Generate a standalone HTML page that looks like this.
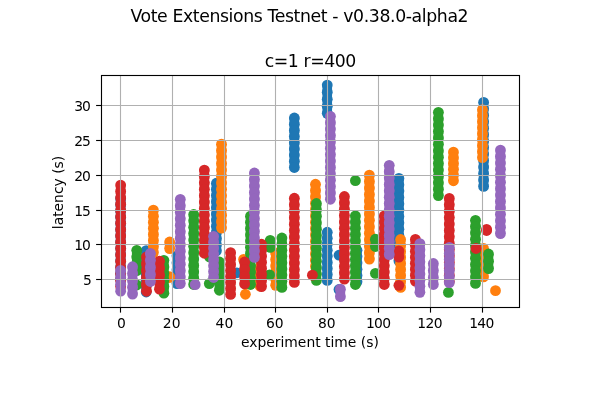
<!DOCTYPE html>
<html lang="en"><head><meta charset="utf-8"><title>Vote Extensions Testnet - v0.38.0-alpha2</title>
<style>html,body{margin:0;padding:0;background:#fff}body{width:600px;height:400px;overflow:hidden}svg{display:block}text{font-family:"DejaVu Sans","Liberation Sans",sans-serif;fill:#000}</style></head><body>
<svg width="600" height="400" viewBox="0 0 600 400">
<rect width="600" height="400" fill="#fff"/>
<clipPath id="ax"><rect x="101.5" y="75.5" width="418.0" height="232.0"/></clipPath>
<g clip-path="url(#ax)" stroke="none">
<g fill="#1f77b4">
<rect x="115.85" y="198.40" width="9.6" height="81.20"/>
<circle cx="120.65" cy="198.40" r="5.4"/>
<circle cx="120.65" cy="204.65" r="5.4"/>
<circle cx="120.65" cy="210.89" r="5.4"/>
<circle cx="120.65" cy="217.14" r="5.4"/>
<circle cx="120.65" cy="223.38" r="5.4"/>
<circle cx="120.65" cy="229.63" r="5.4"/>
<circle cx="120.65" cy="235.88" r="5.4"/>
<circle cx="120.65" cy="242.12" r="5.4"/>
<circle cx="120.65" cy="248.37" r="5.4"/>
<circle cx="120.65" cy="254.62" r="5.4"/>
<circle cx="120.65" cy="260.86" r="5.4"/>
<circle cx="120.65" cy="267.11" r="5.4"/>
<circle cx="120.65" cy="273.35" r="5.4"/>
<circle cx="120.65" cy="279.60" r="5.4"/>
<rect x="141.40" y="250.65" width="9.6" height="41.35"/>
<circle cx="146.20" cy="250.65" r="5.4"/>
<circle cx="146.20" cy="256.56" r="5.4"/>
<circle cx="146.20" cy="262.46" r="5.4"/>
<circle cx="146.20" cy="268.37" r="5.4"/>
<circle cx="146.20" cy="274.28" r="5.4"/>
<circle cx="146.20" cy="280.19" r="5.4"/>
<circle cx="146.20" cy="286.09" r="5.4"/>
<circle cx="146.20" cy="292.00" r="5.4"/>
<rect x="172.20" y="255.90" width="9.6" height="27.70"/>
<circle cx="177.00" cy="255.90" r="5.4"/>
<circle cx="177.00" cy="262.82" r="5.4"/>
<circle cx="177.00" cy="269.75" r="5.4"/>
<circle cx="177.00" cy="276.68" r="5.4"/>
<circle cx="177.00" cy="283.60" r="5.4"/>
<rect x="211.60" y="183.20" width="9.6" height="67.65"/>
<circle cx="216.40" cy="183.20" r="5.4"/>
<circle cx="216.40" cy="189.35" r="5.4"/>
<circle cx="216.40" cy="195.50" r="5.4"/>
<circle cx="216.40" cy="201.65" r="5.4"/>
<circle cx="216.40" cy="207.80" r="5.4"/>
<circle cx="216.40" cy="213.95" r="5.4"/>
<circle cx="216.40" cy="220.10" r="5.4"/>
<circle cx="216.40" cy="226.25" r="5.4"/>
<circle cx="216.40" cy="232.40" r="5.4"/>
<circle cx="216.40" cy="238.55" r="5.4"/>
<circle cx="216.40" cy="244.70" r="5.4"/>
<circle cx="216.40" cy="250.85" r="5.4"/>
<circle cx="236.90" cy="272.80" r="5.4"/>
<rect x="289.55" y="118.00" width="9.6" height="49.50"/>
<circle cx="294.35" cy="118.00" r="5.4"/>
<circle cx="294.35" cy="124.19" r="5.4"/>
<circle cx="294.35" cy="130.38" r="5.4"/>
<circle cx="294.35" cy="136.56" r="5.4"/>
<circle cx="294.35" cy="142.75" r="5.4"/>
<circle cx="294.35" cy="148.94" r="5.4"/>
<circle cx="294.35" cy="155.12" r="5.4"/>
<circle cx="294.35" cy="161.31" r="5.4"/>
<circle cx="294.35" cy="167.50" r="5.4"/>
<rect x="322.45" y="85.10" width="9.6" height="28.25"/>
<circle cx="327.25" cy="85.10" r="5.4"/>
<circle cx="327.25" cy="92.16" r="5.4"/>
<circle cx="327.25" cy="99.22" r="5.4"/>
<circle cx="327.25" cy="106.29" r="5.4"/>
<circle cx="327.25" cy="113.35" r="5.4"/>
<rect x="322.45" y="232.25" width="9.6" height="48.20"/>
<circle cx="327.25" cy="232.25" r="5.4"/>
<circle cx="327.25" cy="238.28" r="5.4"/>
<circle cx="327.25" cy="244.30" r="5.4"/>
<circle cx="327.25" cy="250.33" r="5.4"/>
<circle cx="327.25" cy="256.35" r="5.4"/>
<circle cx="327.25" cy="262.38" r="5.4"/>
<circle cx="327.25" cy="268.40" r="5.4"/>
<circle cx="327.25" cy="274.43" r="5.4"/>
<circle cx="327.25" cy="280.45" r="5.4"/>
<circle cx="339.00" cy="255.20" r="5.4"/>
<circle cx="339.00" cy="289.45" r="5.4"/>
<rect x="352.20" y="250.30" width="9.6" height="31.55"/>
<circle cx="357.00" cy="250.30" r="5.4"/>
<circle cx="357.00" cy="256.61" r="5.4"/>
<circle cx="357.00" cy="262.92" r="5.4"/>
<circle cx="357.00" cy="269.23" r="5.4"/>
<circle cx="357.00" cy="275.54" r="5.4"/>
<circle cx="357.00" cy="281.85" r="5.4"/>
<rect x="394.10" y="178.40" width="9.6" height="82.45"/>
<circle cx="398.90" cy="178.40" r="5.4"/>
<circle cx="398.90" cy="184.74" r="5.4"/>
<circle cx="398.90" cy="191.08" r="5.4"/>
<circle cx="398.90" cy="197.43" r="5.4"/>
<circle cx="398.90" cy="203.77" r="5.4"/>
<circle cx="398.90" cy="210.11" r="5.4"/>
<circle cx="398.90" cy="216.45" r="5.4"/>
<circle cx="398.90" cy="222.80" r="5.4"/>
<circle cx="398.90" cy="229.14" r="5.4"/>
<circle cx="398.90" cy="235.48" r="5.4"/>
<circle cx="398.90" cy="241.82" r="5.4"/>
<circle cx="398.90" cy="248.17" r="5.4"/>
<circle cx="398.90" cy="254.51" r="5.4"/>
<circle cx="398.90" cy="260.85" r="5.4"/>
<rect x="478.80" y="102.30" width="9.6" height="84.10"/>
<circle cx="483.60" cy="102.30" r="5.4"/>
<circle cx="483.60" cy="108.77" r="5.4"/>
<circle cx="483.60" cy="115.24" r="5.4"/>
<circle cx="483.60" cy="121.71" r="5.4"/>
<circle cx="483.60" cy="128.18" r="5.4"/>
<circle cx="483.60" cy="134.65" r="5.4"/>
<circle cx="483.60" cy="141.12" r="5.4"/>
<circle cx="483.60" cy="147.58" r="5.4"/>
<circle cx="483.60" cy="154.05" r="5.4"/>
<circle cx="483.60" cy="160.52" r="5.4"/>
<circle cx="483.60" cy="166.99" r="5.4"/>
<circle cx="483.60" cy="173.46" r="5.4"/>
<circle cx="483.60" cy="179.93" r="5.4"/>
<circle cx="483.60" cy="186.40" r="5.4"/>
</g>
<g fill="#ff7f0e">
<rect x="148.60" y="210.15" width="9.6" height="42.45"/>
<circle cx="153.40" cy="210.15" r="5.4"/>
<circle cx="153.40" cy="216.21" r="5.4"/>
<circle cx="153.40" cy="222.28" r="5.4"/>
<circle cx="153.40" cy="228.34" r="5.4"/>
<circle cx="153.40" cy="234.41" r="5.4"/>
<circle cx="153.40" cy="240.47" r="5.4"/>
<circle cx="153.40" cy="246.54" r="5.4"/>
<circle cx="153.40" cy="252.60" r="5.4"/>
<rect x="164.85" y="242.00" width="9.6" height="6.60"/>
<circle cx="169.65" cy="242.00" r="5.4"/>
<circle cx="169.65" cy="248.60" r="5.4"/>
<rect x="164.85" y="276.60" width="9.6" height="0.90"/>
<circle cx="169.65" cy="276.60" r="5.4"/>
<circle cx="169.65" cy="277.50" r="5.4"/>
<rect x="216.70" y="144.15" width="9.6" height="83.95"/>
<circle cx="221.50" cy="144.15" r="5.4"/>
<circle cx="221.50" cy="150.61" r="5.4"/>
<circle cx="221.50" cy="157.07" r="5.4"/>
<circle cx="221.50" cy="163.52" r="5.4"/>
<circle cx="221.50" cy="169.98" r="5.4"/>
<circle cx="221.50" cy="176.44" r="5.4"/>
<circle cx="221.50" cy="182.90" r="5.4"/>
<circle cx="221.50" cy="189.35" r="5.4"/>
<circle cx="221.50" cy="195.81" r="5.4"/>
<circle cx="221.50" cy="202.27" r="5.4"/>
<circle cx="221.50" cy="208.73" r="5.4"/>
<circle cx="221.50" cy="215.18" r="5.4"/>
<circle cx="221.50" cy="221.64" r="5.4"/>
<circle cx="221.50" cy="228.10" r="5.4"/>
<circle cx="243.60" cy="259.40" r="5.4"/>
<circle cx="245.40" cy="294.25" r="5.4"/>
<rect x="255.20" y="267.40" width="9.6" height="18.70"/>
<circle cx="260.00" cy="267.40" r="5.4"/>
<circle cx="260.00" cy="273.63" r="5.4"/>
<circle cx="260.00" cy="279.87" r="5.4"/>
<circle cx="260.00" cy="286.10" r="5.4"/>
<rect x="270.90" y="252.90" width="9.6" height="32.45"/>
<circle cx="275.70" cy="252.90" r="5.4"/>
<circle cx="275.70" cy="259.39" r="5.4"/>
<circle cx="275.70" cy="265.88" r="5.4"/>
<circle cx="275.70" cy="272.37" r="5.4"/>
<circle cx="275.70" cy="278.86" r="5.4"/>
<circle cx="275.70" cy="285.35" r="5.4"/>
<rect x="310.70" y="184.25" width="9.6" height="82.35"/>
<circle cx="315.50" cy="184.25" r="5.4"/>
<circle cx="315.50" cy="190.58" r="5.4"/>
<circle cx="315.50" cy="196.92" r="5.4"/>
<circle cx="315.50" cy="203.25" r="5.4"/>
<circle cx="315.50" cy="209.59" r="5.4"/>
<circle cx="315.50" cy="215.92" r="5.4"/>
<circle cx="315.50" cy="222.26" r="5.4"/>
<circle cx="315.50" cy="228.59" r="5.4"/>
<circle cx="315.50" cy="234.93" r="5.4"/>
<circle cx="315.50" cy="241.26" r="5.4"/>
<circle cx="315.50" cy="247.60" r="5.4"/>
<circle cx="315.50" cy="253.93" r="5.4"/>
<circle cx="315.50" cy="260.27" r="5.4"/>
<circle cx="315.50" cy="266.60" r="5.4"/>
<rect x="364.60" y="175.15" width="9.6" height="83.95"/>
<circle cx="369.40" cy="175.15" r="5.4"/>
<circle cx="369.40" cy="181.61" r="5.4"/>
<circle cx="369.40" cy="188.07" r="5.4"/>
<circle cx="369.40" cy="194.52" r="5.4"/>
<circle cx="369.40" cy="200.98" r="5.4"/>
<circle cx="369.40" cy="207.44" r="5.4"/>
<circle cx="369.40" cy="213.90" r="5.4"/>
<circle cx="369.40" cy="220.35" r="5.4"/>
<circle cx="369.40" cy="226.81" r="5.4"/>
<circle cx="369.40" cy="233.27" r="5.4"/>
<circle cx="369.40" cy="239.73" r="5.4"/>
<circle cx="369.40" cy="246.18" r="5.4"/>
<circle cx="369.40" cy="252.64" r="5.4"/>
<circle cx="369.40" cy="259.10" r="5.4"/>
<rect x="395.80" y="239.50" width="9.6" height="47.95"/>
<circle cx="400.60" cy="239.50" r="5.4"/>
<circle cx="400.60" cy="245.49" r="5.4"/>
<circle cx="400.60" cy="251.49" r="5.4"/>
<circle cx="400.60" cy="257.48" r="5.4"/>
<circle cx="400.60" cy="263.48" r="5.4"/>
<circle cx="400.60" cy="269.47" r="5.4"/>
<circle cx="400.60" cy="275.46" r="5.4"/>
<circle cx="400.60" cy="281.46" r="5.4"/>
<circle cx="400.60" cy="287.45" r="5.4"/>
<rect x="448.65" y="152.10" width="9.6" height="28.70"/>
<circle cx="453.45" cy="152.10" r="5.4"/>
<circle cx="453.45" cy="157.84" r="5.4"/>
<circle cx="453.45" cy="163.58" r="5.4"/>
<circle cx="453.45" cy="169.32" r="5.4"/>
<circle cx="453.45" cy="175.06" r="5.4"/>
<circle cx="453.45" cy="180.80" r="5.4"/>
<rect x="477.65" y="109.65" width="9.6" height="48.05"/>
<circle cx="482.45" cy="109.65" r="5.4"/>
<circle cx="482.45" cy="115.66" r="5.4"/>
<circle cx="482.45" cy="121.66" r="5.4"/>
<circle cx="482.45" cy="127.67" r="5.4"/>
<circle cx="482.45" cy="133.68" r="5.4"/>
<circle cx="482.45" cy="139.68" r="5.4"/>
<circle cx="482.45" cy="145.69" r="5.4"/>
<circle cx="482.45" cy="151.69" r="5.4"/>
<circle cx="482.45" cy="157.70" r="5.4"/>
<rect x="478.70" y="248.40" width="9.6" height="28.50"/>
<circle cx="483.50" cy="248.40" r="5.4"/>
<circle cx="483.50" cy="254.10" r="5.4"/>
<circle cx="483.50" cy="259.80" r="5.4"/>
<circle cx="483.50" cy="265.50" r="5.4"/>
<circle cx="483.50" cy="271.20" r="5.4"/>
<circle cx="483.50" cy="276.90" r="5.4"/>
<circle cx="495.50" cy="290.65" r="5.4"/>
</g>
<g fill="#2ca02c">
<rect x="131.95" y="250.30" width="9.6" height="20.30"/>
<circle cx="136.75" cy="250.30" r="5.4"/>
<circle cx="136.75" cy="257.07" r="5.4"/>
<circle cx="136.75" cy="263.83" r="5.4"/>
<circle cx="136.75" cy="270.60" r="5.4"/>
<circle cx="136.75" cy="285.00" r="5.4"/>
<rect x="159.10" y="260.30" width="9.6" height="32.90"/>
<circle cx="163.90" cy="260.30" r="5.4"/>
<circle cx="163.90" cy="266.88" r="5.4"/>
<circle cx="163.90" cy="273.46" r="5.4"/>
<circle cx="163.90" cy="280.04" r="5.4"/>
<circle cx="163.90" cy="286.62" r="5.4"/>
<circle cx="163.90" cy="293.20" r="5.4"/>
<rect x="188.90" y="214.50" width="9.6" height="70.00"/>
<circle cx="193.70" cy="214.50" r="5.4"/>
<circle cx="193.70" cy="220.86" r="5.4"/>
<circle cx="193.70" cy="227.23" r="5.4"/>
<circle cx="193.70" cy="233.59" r="5.4"/>
<circle cx="193.70" cy="239.95" r="5.4"/>
<circle cx="193.70" cy="246.32" r="5.4"/>
<circle cx="193.70" cy="252.68" r="5.4"/>
<circle cx="193.70" cy="259.05" r="5.4"/>
<circle cx="193.70" cy="265.41" r="5.4"/>
<circle cx="193.70" cy="271.77" r="5.4"/>
<circle cx="193.70" cy="278.14" r="5.4"/>
<circle cx="193.70" cy="284.50" r="5.4"/>
<circle cx="209.50" cy="257.00" r="5.4"/>
<circle cx="209.30" cy="283.60" r="5.4"/>
<rect x="214.60" y="262.00" width="9.6" height="28.25"/>
<circle cx="219.40" cy="262.00" r="5.4"/>
<circle cx="219.40" cy="269.06" r="5.4"/>
<circle cx="219.40" cy="276.12" r="5.4"/>
<circle cx="219.40" cy="283.19" r="5.4"/>
<circle cx="219.40" cy="290.25" r="5.4"/>
<rect x="245.70" y="216.15" width="9.6" height="68.35"/>
<circle cx="250.50" cy="216.15" r="5.4"/>
<circle cx="250.50" cy="222.36" r="5.4"/>
<circle cx="250.50" cy="228.58" r="5.4"/>
<circle cx="250.50" cy="234.79" r="5.4"/>
<circle cx="250.50" cy="241.00" r="5.4"/>
<circle cx="250.50" cy="247.22" r="5.4"/>
<circle cx="250.50" cy="253.43" r="5.4"/>
<circle cx="250.50" cy="259.65" r="5.4"/>
<circle cx="250.50" cy="265.86" r="5.4"/>
<circle cx="250.50" cy="272.07" r="5.4"/>
<circle cx="250.50" cy="278.29" r="5.4"/>
<circle cx="250.50" cy="284.50" r="5.4"/>
<rect x="265.40" y="240.30" width="9.6" height="7.10"/>
<circle cx="270.20" cy="240.30" r="5.4"/>
<circle cx="270.20" cy="247.40" r="5.4"/>
<circle cx="269.60" cy="274.88" r="5.4"/>
<rect x="277.10" y="238.00" width="9.6" height="49.45"/>
<circle cx="281.90" cy="238.00" r="5.4"/>
<circle cx="281.90" cy="244.18" r="5.4"/>
<circle cx="281.90" cy="250.36" r="5.4"/>
<circle cx="281.90" cy="256.54" r="5.4"/>
<circle cx="281.90" cy="262.73" r="5.4"/>
<circle cx="281.90" cy="268.91" r="5.4"/>
<circle cx="281.90" cy="275.09" r="5.4"/>
<circle cx="281.90" cy="281.27" r="5.4"/>
<circle cx="281.90" cy="287.45" r="5.4"/>
<rect x="311.60" y="203.50" width="9.6" height="76.95"/>
<circle cx="316.40" cy="203.50" r="5.4"/>
<circle cx="316.40" cy="209.91" r="5.4"/>
<circle cx="316.40" cy="216.33" r="5.4"/>
<circle cx="316.40" cy="222.74" r="5.4"/>
<circle cx="316.40" cy="229.15" r="5.4"/>
<circle cx="316.40" cy="235.56" r="5.4"/>
<circle cx="316.40" cy="241.98" r="5.4"/>
<circle cx="316.40" cy="248.39" r="5.4"/>
<circle cx="316.40" cy="254.80" r="5.4"/>
<circle cx="316.40" cy="261.21" r="5.4"/>
<circle cx="316.40" cy="267.63" r="5.4"/>
<circle cx="316.40" cy="274.04" r="5.4"/>
<circle cx="316.40" cy="280.45" r="5.4"/>
<circle cx="355.40" cy="180.68" r="5.4"/>
<rect x="350.60" y="215.80" width="9.6" height="68.70"/>
<circle cx="355.40" cy="215.80" r="5.4"/>
<circle cx="355.40" cy="222.05" r="5.4"/>
<circle cx="355.40" cy="228.29" r="5.4"/>
<circle cx="355.40" cy="234.54" r="5.4"/>
<circle cx="355.40" cy="240.78" r="5.4"/>
<circle cx="355.40" cy="247.03" r="5.4"/>
<circle cx="355.40" cy="253.27" r="5.4"/>
<circle cx="355.40" cy="259.52" r="5.4"/>
<circle cx="355.40" cy="265.76" r="5.4"/>
<circle cx="355.40" cy="272.01" r="5.4"/>
<circle cx="355.40" cy="278.25" r="5.4"/>
<circle cx="355.40" cy="284.50" r="5.4"/>
<rect x="370.60" y="239.25" width="9.6" height="7.25"/>
<circle cx="375.40" cy="239.25" r="5.4"/>
<circle cx="375.40" cy="246.50" r="5.4"/>
<circle cx="375.40" cy="273.43" r="5.4"/>
<rect x="433.60" y="112.30" width="9.6" height="83.30"/>
<circle cx="438.40" cy="112.30" r="5.4"/>
<circle cx="438.40" cy="118.71" r="5.4"/>
<circle cx="438.40" cy="125.12" r="5.4"/>
<circle cx="438.40" cy="131.52" r="5.4"/>
<circle cx="438.40" cy="137.93" r="5.4"/>
<circle cx="438.40" cy="144.34" r="5.4"/>
<circle cx="438.40" cy="150.75" r="5.4"/>
<circle cx="438.40" cy="157.15" r="5.4"/>
<circle cx="438.40" cy="163.56" r="5.4"/>
<circle cx="438.40" cy="169.97" r="5.4"/>
<circle cx="438.40" cy="176.38" r="5.4"/>
<circle cx="438.40" cy="182.78" r="5.4"/>
<circle cx="438.40" cy="189.19" r="5.4"/>
<circle cx="438.40" cy="195.60" r="5.4"/>
<circle cx="448.40" cy="292.43" r="5.4"/>
<rect x="470.70" y="220.30" width="9.6" height="63.10"/>
<circle cx="475.50" cy="220.30" r="5.4"/>
<circle cx="475.50" cy="226.61" r="5.4"/>
<circle cx="475.50" cy="232.92" r="5.4"/>
<circle cx="475.50" cy="239.23" r="5.4"/>
<circle cx="475.50" cy="245.54" r="5.4"/>
<circle cx="475.50" cy="251.85" r="5.4"/>
<circle cx="475.50" cy="258.16" r="5.4"/>
<circle cx="475.50" cy="264.47" r="5.4"/>
<circle cx="475.50" cy="270.78" r="5.4"/>
<circle cx="475.50" cy="277.09" r="5.4"/>
<circle cx="475.50" cy="283.40" r="5.4"/>
<rect x="483.70" y="254.00" width="9.6" height="14.60"/>
<circle cx="488.50" cy="254.00" r="5.4"/>
<circle cx="488.50" cy="261.30" r="5.4"/>
<circle cx="488.50" cy="268.60" r="5.4"/>
</g>
<g fill="#d62728">
<rect x="115.85" y="185.10" width="9.6" height="101.50"/>
<circle cx="120.65" cy="185.10" r="5.4"/>
<circle cx="120.65" cy="191.44" r="5.4"/>
<circle cx="120.65" cy="197.79" r="5.4"/>
<circle cx="120.65" cy="204.13" r="5.4"/>
<circle cx="120.65" cy="210.47" r="5.4"/>
<circle cx="120.65" cy="216.82" r="5.4"/>
<circle cx="120.65" cy="223.16" r="5.4"/>
<circle cx="120.65" cy="229.51" r="5.4"/>
<circle cx="120.65" cy="235.85" r="5.4"/>
<circle cx="120.65" cy="242.19" r="5.4"/>
<circle cx="120.65" cy="248.54" r="5.4"/>
<circle cx="120.65" cy="254.88" r="5.4"/>
<circle cx="120.65" cy="261.23" r="5.4"/>
<circle cx="120.65" cy="267.57" r="5.4"/>
<circle cx="120.65" cy="273.91" r="5.4"/>
<circle cx="120.65" cy="280.26" r="5.4"/>
<circle cx="120.65" cy="286.60" r="5.4"/>
<rect x="141.70" y="256.80" width="9.6" height="34.50"/>
<circle cx="146.50" cy="256.80" r="5.4"/>
<circle cx="146.50" cy="263.70" r="5.4"/>
<circle cx="146.50" cy="270.60" r="5.4"/>
<circle cx="146.50" cy="277.50" r="5.4"/>
<circle cx="146.50" cy="284.40" r="5.4"/>
<circle cx="146.50" cy="291.30" r="5.4"/>
<rect x="154.70" y="261.15" width="9.6" height="28.05"/>
<circle cx="159.50" cy="261.15" r="5.4"/>
<circle cx="159.50" cy="268.16" r="5.4"/>
<circle cx="159.50" cy="275.18" r="5.4"/>
<circle cx="159.50" cy="282.19" r="5.4"/>
<circle cx="159.50" cy="289.20" r="5.4"/>
<rect x="199.55" y="170.05" width="9.6" height="83.25"/>
<circle cx="204.35" cy="170.05" r="5.4"/>
<circle cx="204.35" cy="176.45" r="5.4"/>
<circle cx="204.35" cy="182.86" r="5.4"/>
<circle cx="204.35" cy="189.26" r="5.4"/>
<circle cx="204.35" cy="195.67" r="5.4"/>
<circle cx="204.35" cy="202.07" r="5.4"/>
<circle cx="204.35" cy="208.47" r="5.4"/>
<circle cx="204.35" cy="214.88" r="5.4"/>
<circle cx="204.35" cy="221.28" r="5.4"/>
<circle cx="204.35" cy="227.68" r="5.4"/>
<circle cx="204.35" cy="234.09" r="5.4"/>
<circle cx="204.35" cy="240.49" r="5.4"/>
<circle cx="204.35" cy="246.90" r="5.4"/>
<circle cx="204.35" cy="253.30" r="5.4"/>
<rect x="225.80" y="252.55" width="9.6" height="41.90"/>
<circle cx="230.60" cy="252.55" r="5.4"/>
<circle cx="230.60" cy="258.54" r="5.4"/>
<circle cx="230.60" cy="264.52" r="5.4"/>
<circle cx="230.60" cy="270.51" r="5.4"/>
<circle cx="230.60" cy="276.49" r="5.4"/>
<circle cx="230.60" cy="282.48" r="5.4"/>
<circle cx="230.60" cy="288.46" r="5.4"/>
<circle cx="230.60" cy="294.45" r="5.4"/>
<rect x="239.80" y="262.00" width="9.6" height="21.95"/>
<circle cx="244.60" cy="262.00" r="5.4"/>
<circle cx="244.60" cy="269.32" r="5.4"/>
<circle cx="244.60" cy="276.63" r="5.4"/>
<circle cx="244.60" cy="283.95" r="5.4"/>
<rect x="256.70" y="244.20" width="9.6" height="42.40"/>
<circle cx="261.50" cy="244.20" r="5.4"/>
<circle cx="261.50" cy="250.26" r="5.4"/>
<circle cx="261.50" cy="256.31" r="5.4"/>
<circle cx="261.50" cy="262.37" r="5.4"/>
<circle cx="261.50" cy="268.43" r="5.4"/>
<circle cx="261.50" cy="274.49" r="5.4"/>
<circle cx="261.50" cy="280.54" r="5.4"/>
<circle cx="261.50" cy="286.60" r="5.4"/>
<rect x="289.55" y="198.25" width="9.6" height="84.15"/>
<circle cx="294.35" cy="198.25" r="5.4"/>
<circle cx="294.35" cy="204.72" r="5.4"/>
<circle cx="294.35" cy="211.20" r="5.4"/>
<circle cx="294.35" cy="217.67" r="5.4"/>
<circle cx="294.35" cy="224.14" r="5.4"/>
<circle cx="294.35" cy="230.62" r="5.4"/>
<circle cx="294.35" cy="237.09" r="5.4"/>
<circle cx="294.35" cy="243.56" r="5.4"/>
<circle cx="294.35" cy="250.03" r="5.4"/>
<circle cx="294.35" cy="256.51" r="5.4"/>
<circle cx="294.35" cy="262.98" r="5.4"/>
<circle cx="294.35" cy="269.45" r="5.4"/>
<circle cx="294.35" cy="275.93" r="5.4"/>
<circle cx="294.35" cy="282.40" r="5.4"/>
<circle cx="312.40" cy="275.18" r="5.4"/>
<rect x="339.60" y="196.50" width="9.6" height="82.70"/>
<circle cx="344.40" cy="196.50" r="5.4"/>
<circle cx="344.40" cy="202.86" r="5.4"/>
<circle cx="344.40" cy="209.22" r="5.4"/>
<circle cx="344.40" cy="215.58" r="5.4"/>
<circle cx="344.40" cy="221.95" r="5.4"/>
<circle cx="344.40" cy="228.31" r="5.4"/>
<circle cx="344.40" cy="234.67" r="5.4"/>
<circle cx="344.40" cy="241.03" r="5.4"/>
<circle cx="344.40" cy="247.39" r="5.4"/>
<circle cx="344.40" cy="253.75" r="5.4"/>
<circle cx="344.40" cy="260.12" r="5.4"/>
<circle cx="344.40" cy="266.48" r="5.4"/>
<circle cx="344.40" cy="272.84" r="5.4"/>
<circle cx="344.40" cy="279.20" r="5.4"/>
<rect x="379.50" y="215.90" width="9.6" height="68.60"/>
<circle cx="384.30" cy="215.90" r="5.4"/>
<circle cx="384.30" cy="222.14" r="5.4"/>
<circle cx="384.30" cy="228.37" r="5.4"/>
<circle cx="384.30" cy="234.61" r="5.4"/>
<circle cx="384.30" cy="240.85" r="5.4"/>
<circle cx="384.30" cy="247.08" r="5.4"/>
<circle cx="384.30" cy="253.32" r="5.4"/>
<circle cx="384.30" cy="259.55" r="5.4"/>
<circle cx="384.30" cy="265.79" r="5.4"/>
<circle cx="384.30" cy="272.03" r="5.4"/>
<circle cx="384.30" cy="278.26" r="5.4"/>
<circle cx="384.30" cy="284.50" r="5.4"/>
<rect x="394.10" y="250.80" width="9.6" height="6.30"/>
<circle cx="398.90" cy="250.80" r="5.4"/>
<circle cx="398.90" cy="257.10" r="5.4"/>
<circle cx="398.90" cy="285.32" r="5.4"/>
<rect x="410.60" y="239.40" width="9.6" height="41.70"/>
<circle cx="415.40" cy="239.40" r="5.4"/>
<circle cx="415.40" cy="245.36" r="5.4"/>
<circle cx="415.40" cy="251.31" r="5.4"/>
<circle cx="415.40" cy="257.27" r="5.4"/>
<circle cx="415.40" cy="263.23" r="5.4"/>
<circle cx="415.40" cy="269.19" r="5.4"/>
<circle cx="415.40" cy="275.14" r="5.4"/>
<circle cx="415.40" cy="281.10" r="5.4"/>
<rect x="444.50" y="198.40" width="9.6" height="83.20"/>
<circle cx="449.30" cy="198.40" r="5.4"/>
<circle cx="449.30" cy="204.80" r="5.4"/>
<circle cx="449.30" cy="211.20" r="5.4"/>
<circle cx="449.30" cy="217.60" r="5.4"/>
<circle cx="449.30" cy="224.00" r="5.4"/>
<circle cx="449.30" cy="230.40" r="5.4"/>
<circle cx="449.30" cy="236.80" r="5.4"/>
<circle cx="449.30" cy="243.20" r="5.4"/>
<circle cx="449.30" cy="249.60" r="5.4"/>
<circle cx="449.30" cy="256.00" r="5.4"/>
<circle cx="449.30" cy="262.40" r="5.4"/>
<circle cx="449.30" cy="268.80" r="5.4"/>
<circle cx="449.30" cy="275.20" r="5.4"/>
<circle cx="449.30" cy="281.60" r="5.4"/>
<circle cx="476.00" cy="248.50" r="5.4"/>
<rect x="481.80" y="229.40" width="9.6" height="1.10"/>
<circle cx="486.60" cy="229.40" r="5.4"/>
<circle cx="486.60" cy="230.50" r="5.4"/>
</g>
<g fill="#9467bd">
<rect x="115.85" y="270.40" width="9.6" height="20.80"/>
<circle cx="120.65" cy="270.40" r="5.4"/>
<circle cx="120.65" cy="277.33" r="5.4"/>
<circle cx="120.65" cy="284.27" r="5.4"/>
<circle cx="120.65" cy="291.20" r="5.4"/>
<rect x="127.75" y="266.75" width="9.6" height="27.35"/>
<circle cx="132.55" cy="266.75" r="5.4"/>
<circle cx="132.55" cy="273.59" r="5.4"/>
<circle cx="132.55" cy="280.43" r="5.4"/>
<circle cx="132.55" cy="287.26" r="5.4"/>
<circle cx="132.55" cy="294.10" r="5.4"/>
<rect x="145.60" y="253.30" width="9.6" height="28.20"/>
<circle cx="150.40" cy="253.30" r="5.4"/>
<circle cx="150.40" cy="260.35" r="5.4"/>
<circle cx="150.40" cy="267.40" r="5.4"/>
<circle cx="150.40" cy="274.45" r="5.4"/>
<circle cx="150.40" cy="281.50" r="5.4"/>
<rect x="175.50" y="199.30" width="9.6" height="84.30"/>
<circle cx="180.30" cy="199.30" r="5.4"/>
<circle cx="180.30" cy="205.78" r="5.4"/>
<circle cx="180.30" cy="212.27" r="5.4"/>
<circle cx="180.30" cy="218.75" r="5.4"/>
<circle cx="180.30" cy="225.24" r="5.4"/>
<circle cx="180.30" cy="231.72" r="5.4"/>
<circle cx="180.30" cy="238.21" r="5.4"/>
<circle cx="180.30" cy="244.69" r="5.4"/>
<circle cx="180.30" cy="251.18" r="5.4"/>
<circle cx="180.30" cy="257.66" r="5.4"/>
<circle cx="180.30" cy="264.15" r="5.4"/>
<circle cx="180.30" cy="270.63" r="5.4"/>
<circle cx="180.30" cy="277.12" r="5.4"/>
<circle cx="180.30" cy="283.60" r="5.4"/>
<circle cx="195.20" cy="284.65" r="5.4"/>
<rect x="208.80" y="236.30" width="9.6" height="41.20"/>
<circle cx="213.60" cy="236.30" r="5.4"/>
<circle cx="213.60" cy="242.19" r="5.4"/>
<circle cx="213.60" cy="248.07" r="5.4"/>
<circle cx="213.60" cy="253.96" r="5.4"/>
<circle cx="213.60" cy="259.84" r="5.4"/>
<circle cx="213.60" cy="265.73" r="5.4"/>
<circle cx="213.60" cy="271.61" r="5.4"/>
<circle cx="213.60" cy="277.50" r="5.4"/>
<rect x="249.60" y="173.00" width="9.6" height="84.40"/>
<circle cx="254.40" cy="173.00" r="5.4"/>
<circle cx="254.40" cy="179.49" r="5.4"/>
<circle cx="254.40" cy="185.98" r="5.4"/>
<circle cx="254.40" cy="192.48" r="5.4"/>
<circle cx="254.40" cy="198.97" r="5.4"/>
<circle cx="254.40" cy="205.46" r="5.4"/>
<circle cx="254.40" cy="211.95" r="5.4"/>
<circle cx="254.40" cy="218.45" r="5.4"/>
<circle cx="254.40" cy="224.94" r="5.4"/>
<circle cx="254.40" cy="231.43" r="5.4"/>
<circle cx="254.40" cy="237.92" r="5.4"/>
<circle cx="254.40" cy="244.42" r="5.4"/>
<circle cx="254.40" cy="250.91" r="5.4"/>
<circle cx="254.40" cy="257.40" r="5.4"/>
<rect x="325.60" y="116.30" width="9.6" height="83.00"/>
<circle cx="330.40" cy="116.30" r="5.4"/>
<circle cx="330.40" cy="122.68" r="5.4"/>
<circle cx="330.40" cy="129.07" r="5.4"/>
<circle cx="330.40" cy="135.45" r="5.4"/>
<circle cx="330.40" cy="141.84" r="5.4"/>
<circle cx="330.40" cy="148.22" r="5.4"/>
<circle cx="330.40" cy="154.61" r="5.4"/>
<circle cx="330.40" cy="160.99" r="5.4"/>
<circle cx="330.40" cy="167.38" r="5.4"/>
<circle cx="330.40" cy="173.76" r="5.4"/>
<circle cx="330.40" cy="180.15" r="5.4"/>
<circle cx="330.40" cy="186.53" r="5.4"/>
<circle cx="330.40" cy="192.92" r="5.4"/>
<circle cx="330.40" cy="199.30" r="5.4"/>
<rect x="335.60" y="289.15" width="9.6" height="7.55"/>
<circle cx="340.40" cy="289.15" r="5.4"/>
<circle cx="340.40" cy="296.70" r="5.4"/>
<rect x="384.45" y="165.30" width="9.6" height="89.30"/>
<circle cx="389.25" cy="165.30" r="5.4"/>
<circle cx="389.25" cy="171.68" r="5.4"/>
<circle cx="389.25" cy="178.06" r="5.4"/>
<circle cx="389.25" cy="184.44" r="5.4"/>
<circle cx="389.25" cy="190.81" r="5.4"/>
<circle cx="389.25" cy="197.19" r="5.4"/>
<circle cx="389.25" cy="203.57" r="5.4"/>
<circle cx="389.25" cy="209.95" r="5.4"/>
<circle cx="389.25" cy="216.33" r="5.4"/>
<circle cx="389.25" cy="222.71" r="5.4"/>
<circle cx="389.25" cy="229.09" r="5.4"/>
<circle cx="389.25" cy="235.46" r="5.4"/>
<circle cx="389.25" cy="241.84" r="5.4"/>
<circle cx="389.25" cy="248.22" r="5.4"/>
<circle cx="389.25" cy="254.60" r="5.4"/>
<rect x="415.10" y="243.55" width="9.6" height="48.80"/>
<circle cx="419.90" cy="243.55" r="5.4"/>
<circle cx="419.90" cy="249.65" r="5.4"/>
<circle cx="419.90" cy="255.75" r="5.4"/>
<circle cx="419.90" cy="261.85" r="5.4"/>
<circle cx="419.90" cy="267.95" r="5.4"/>
<circle cx="419.90" cy="274.05" r="5.4"/>
<circle cx="419.90" cy="280.15" r="5.4"/>
<circle cx="419.90" cy="286.25" r="5.4"/>
<circle cx="419.90" cy="292.35" r="5.4"/>
<rect x="428.55" y="263.50" width="9.6" height="21.00"/>
<circle cx="433.35" cy="263.50" r="5.4"/>
<circle cx="433.35" cy="270.50" r="5.4"/>
<circle cx="433.35" cy="277.50" r="5.4"/>
<circle cx="433.35" cy="284.50" r="5.4"/>
<rect x="444.50" y="247.40" width="9.6" height="35.20"/>
<circle cx="449.30" cy="247.40" r="5.4"/>
<circle cx="449.30" cy="253.27" r="5.4"/>
<circle cx="449.30" cy="259.13" r="5.4"/>
<circle cx="449.30" cy="265.00" r="5.4"/>
<circle cx="449.30" cy="270.87" r="5.4"/>
<circle cx="449.30" cy="276.73" r="5.4"/>
<circle cx="449.30" cy="282.60" r="5.4"/>
<rect x="495.65" y="150.10" width="9.6" height="83.50"/>
<circle cx="500.45" cy="150.10" r="5.4"/>
<circle cx="500.45" cy="156.52" r="5.4"/>
<circle cx="500.45" cy="162.95" r="5.4"/>
<circle cx="500.45" cy="169.37" r="5.4"/>
<circle cx="500.45" cy="175.79" r="5.4"/>
<circle cx="500.45" cy="182.22" r="5.4"/>
<circle cx="500.45" cy="188.64" r="5.4"/>
<circle cx="500.45" cy="195.06" r="5.4"/>
<circle cx="500.45" cy="201.48" r="5.4"/>
<circle cx="500.45" cy="207.91" r="5.4"/>
<circle cx="500.45" cy="214.33" r="5.4"/>
<circle cx="500.45" cy="220.75" r="5.4"/>
<circle cx="500.45" cy="227.18" r="5.4"/>
<circle cx="500.45" cy="233.60" r="5.4"/>
</g>
</g>
<g stroke="#b0b0b0" stroke-width="1.11" fill="none">
<line x1="120.5" y1="75.5" x2="120.5" y2="307.5"/>
<line x1="172.5" y1="75.5" x2="172.5" y2="307.5"/>
<line x1="224.5" y1="75.5" x2="224.5" y2="307.5"/>
<line x1="275.5" y1="75.5" x2="275.5" y2="307.5"/>
<line x1="327.5" y1="75.5" x2="327.5" y2="307.5"/>
<line x1="378.5" y1="75.5" x2="378.5" y2="307.5"/>
<line x1="430.5" y1="75.5" x2="430.5" y2="307.5"/>
<line x1="482.5" y1="75.5" x2="482.5" y2="307.5"/>
<line x1="101.5" y1="279.5" x2="519.5" y2="279.5"/>
<line x1="101.5" y1="244.5" x2="519.5" y2="244.5"/>
<line x1="101.5" y1="210.5" x2="519.5" y2="210.5"/>
<line x1="101.5" y1="175.5" x2="519.5" y2="175.5"/>
<line x1="101.5" y1="140.5" x2="519.5" y2="140.5"/>
<line x1="101.5" y1="105.5" x2="519.5" y2="105.5"/>
</g>
<g stroke="#000" stroke-width="1.11" fill="none">
<line x1="120.5" y1="307.5" x2="120.5" y2="312.60"/>
<line x1="172.5" y1="307.5" x2="172.5" y2="312.60"/>
<line x1="224.5" y1="307.5" x2="224.5" y2="312.60"/>
<line x1="275.5" y1="307.5" x2="275.5" y2="312.60"/>
<line x1="327.5" y1="307.5" x2="327.5" y2="312.60"/>
<line x1="378.5" y1="307.5" x2="378.5" y2="312.60"/>
<line x1="430.5" y1="307.5" x2="430.5" y2="312.60"/>
<line x1="482.5" y1="307.5" x2="482.5" y2="312.60"/>
<line x1="101.5" y1="279.5" x2="96.10" y2="279.5"/>
<line x1="101.5" y1="244.5" x2="96.10" y2="244.5"/>
<line x1="101.5" y1="210.5" x2="96.10" y2="210.5"/>
<line x1="101.5" y1="175.5" x2="96.10" y2="175.5"/>
<line x1="101.5" y1="140.5" x2="96.10" y2="140.5"/>
<line x1="101.5" y1="105.5" x2="96.10" y2="105.5"/>
<rect x="101.5" y="75.5" width="418.0" height="232.0" stroke-linejoin="miter"/>
</g>
<g font-size="13.89px">
<text x="121.3" y="328.1" text-anchor="middle">0</text>
<text x="171.7" y="328.1" text-anchor="middle">20</text>
<text x="224.4" y="328.1" text-anchor="middle">40</text>
<text x="274.8" y="328.1" text-anchor="middle">60</text>
<text x="326.8" y="328.1" text-anchor="middle">80</text>
<text x="378.5" y="328.1" text-anchor="middle" textLength="25.0" lengthAdjust="spacing">100</text>
<text x="429.9" y="328.1" text-anchor="middle" textLength="25.2" lengthAdjust="spacing">120</text>
<text x="481.75" y="328.1" text-anchor="middle" textLength="25.0" lengthAdjust="spacing">140</text>
<text x="91.8" y="284.8" text-anchor="end">5</text>
<text x="74.14" y="249.8" letter-spacing="-1">10</text>
<text x="74.14" y="215.8" letter-spacing="-1">15</text>
<text x="74.14" y="180.8" letter-spacing="-1">20</text>
<text x="74.14" y="145.8" letter-spacing="-1">25</text>
<text x="74.14" y="110.8" letter-spacing="-1">30</text>
<text x="309.9" y="346.5" text-anchor="middle">experiment time (s)</text>
<text transform="translate(63.0 192.5) rotate(-90)" text-anchor="middle">latency (s)</text>
</g>
<g font-size="17.3px">
<text x="310.5" y="66.8" text-anchor="middle" textLength="91.6" lengthAdjust="spacing">c=1 r=400</text>
<text x="299.5" y="21.9" text-anchor="middle" textLength="338.2" lengthAdjust="spacing">Vote Extensions Testnet - v0.38.0-alpha2</text>
</g>
</svg></body></html>
